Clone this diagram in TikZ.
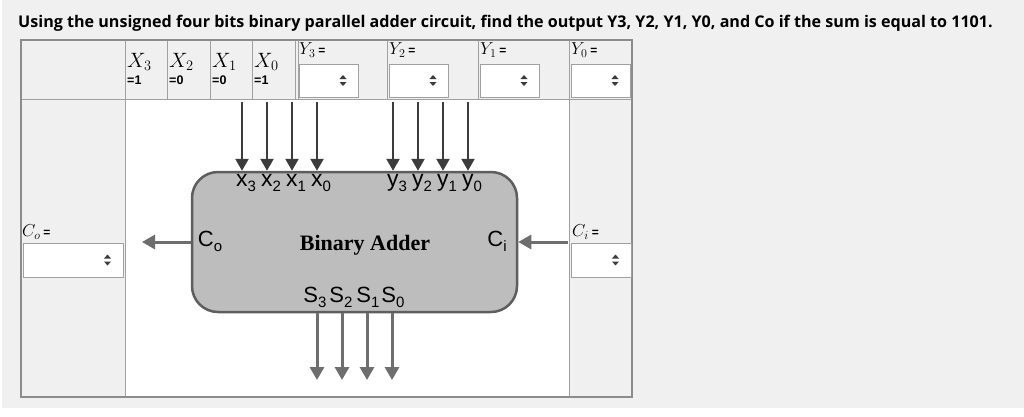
\documentclass[tikz,border=0pt]{standalone}
\usepackage{fontspec}
\usepackage{tikz}
\usetikzlibrary{shapes,arrows.meta}
\setmainfont{Liberation Serif}
\setsansfont{Liberation Sans}
\newfontfamily\titlefont{Open Sans}
\definecolor{pagegray}{HTML}{F0F0F0}
\definecolor{tabline}{HTML}{A0A0A0}
\definecolor{tabedge}{HTML}{8C8C8C}
\definecolor{blockfill}{HTML}{BDBDBD}
\definecolor{blockedge}{HTML}{5E5E5E}
\definecolor{darkarrow}{HTML}{3C3C3C}
\definecolor{grayarrow}{HTML}{6E6E6E}
\tikzstyle{dropdown}=[rectangle,draw=tabline,fill=white,line width=1pt,minimum width=59pt,minimum height=33pt,inner sep=0pt]
\tikzstyle{adderbox}=[rectangle,rounded corners=26pt,draw=blockedge,fill=blockfill,line width=2.5pt,minimum width=325pt,minimum height=140pt]
\tikzstyle{inarrow}=[draw=darkarrow,line width=2.5pt,-{Triangle[width=13pt,length=12pt]},darkarrow]
\tikzstyle{outarrow}=[draw=grayarrow,line width=3pt,-{Triangle[width=14pt,length=13pt]},grayarrow]
\tikzstyle{portlbl}=[inner sep=0pt,font=\sffamily\fontsize{23}{23}\selectfont]
\tikzstyle{sumlbl}=[inner sep=0pt,font=\sffamily\fontsize{22}{22}\selectfont]
\tikzstyle{celllbl}=[anchor=west,inner sep=0pt,font=\fontsize{21}{21}\selectfont]
\tikzstyle{vallbl}=[anchor=west,inner sep=0pt,font=\sffamily\bfseries\fontsize{12.5}{13}\selectfont]
\newcommand{\portsub}[1]{\raisebox{-5pt}{\fontsize{15}{15}\selectfont#1}}
\newcommand{\eqsign}{{\sffamily\bfseries\fontsize{12}{12}\selectfont=}}
\newcommand{\dropicon}[1]{%
  \path (#1.east) ++(-16,0) coordinate (#1icon);
  \fill[darkarrow] (#1icon) ++(-3.5,1.5) -- ++(7,0) -- ++(-3.5,4) -- cycle;
  \fill[darkarrow] (#1icon) ++(-3.5,-1.5) -- ++(7,0) -- ++(-3.5,-4) -- cycle;}
\begin{document}
\begin{tikzpicture}[x=1pt,y=-1pt]
\useasboundingbox (0,0) rectangle (1024,416);
\fill[pagegray] (2,0) rectangle (1024,408);
\node[anchor=base west,inner sep=0pt,font=\titlefont\bfseries\fontsize{16.1}{18}\selectfont] (title) at (18,27)
  {Using the unsigned four bits binary parallel adder circuit, find the output Y3, Y2, Y1, Y0, and Co if the sum is equal to 1101.};

% table cells
\fill[white] (125,99) rectangle (569,397);
\draw[tabline,line width=1pt] (21,99) -- (632,99);
\draw[tabline,line width=1pt] (125,40) -- (125,397);
\draw[tabline,line width=1pt] (569,40) -- (569,397);
\foreach \xx in {167,210,252,295,298,387,478}
  \draw[tabline,line width=1pt] (\xx,40) -- (\xx,99);
\draw[tabedge,line width=1.2pt] (21,40) rectangle (632,397);

% header row
\foreach \i/\v/\xx in {3/1/127,2/0/169,1/0/212,0/1/254} {
  \node[celllbl] (xh\i) at (\xx,62) {$X_{\i}$};
  \node[vallbl] (xv\i) at (\xx,80) {=\v};
}
\foreach \i/\xx in {3/299,2/389,1/480,0/571} {
  \node[celllbl,font=\fontsize{18}{18}\selectfont] (yh\i) at (\xx,50) {$Y_{\i}$\,\eqsign};
  \node[dropdown] (yd\i) at (\xx+30,80.5) {};
  \dropicon{yd\i}
}

% carry cells
\node[celllbl,font=\fontsize{18}{18}\selectfont] (coh) at (22,232) {$C_o$\,\eqsign};
\node[dropdown,minimum width=100pt,minimum height=34pt] (cod) at (73,260) {};
\dropicon{cod}
\node[celllbl,font=\fontsize{18}{18}\selectfont] (cih) at (572,232) {$C_i$\,\eqsign};
\node[dropdown,minimum width=60pt,minimum height=34pt] (cid) at (601,260) {};
\dropicon{cid}

% adder block
\node[adderbox] (adder) at (354.5,242) {};
\node[font=\bfseries\fontsize{22}{22}\selectfont] (addname) at (365,245) {Binary Adder};
\node[sumlbl] (co) at (210,241) {C\portsub{o}};
\node[sumlbl] (ci) at (497,241) {C\portsub{i}};

% inputs
\foreach \i/\xx in {3/242,2/267,1/292,0/317} {
  \coordinate (xin\i) at (\xx,102);
  \draw[inarrow] (xin\i) -- (xin\i |- adder.north);
  \node[portlbl] (xp\i) at (\xx+4,183) {x\portsub{\i}};
}
\foreach \i/\xx in {3/393,2/418,1/443,0/468} {
  \coordinate (yin\i) at (\xx,102);
  \draw[inarrow] (yin\i) -- (yin\i |- adder.north);
  \node[portlbl] (yp\i) at (\xx+4,183) {y\portsub{\i}};
}

% carries
\coordinate (coout) at (142,242);
\draw[outarrow] (adder.west) -- (coout);
\coordinate (ciin) at (568,242);
\draw[outarrow] (ciin) -- (adder.east);

% sums
\foreach \i/\xx/\lx in {3/317/315,2/342/341,1/367/368,0/392/393} {
  \coordinate (sout\i) at (\xx,380);
  \draw[outarrow] (sout\i |- adder.south) -- (sout\i);
  \node[sumlbl] (sp\i) at (\lx,297) {S\portsub{\i}};
}
\end{tikzpicture}
\end{document}
